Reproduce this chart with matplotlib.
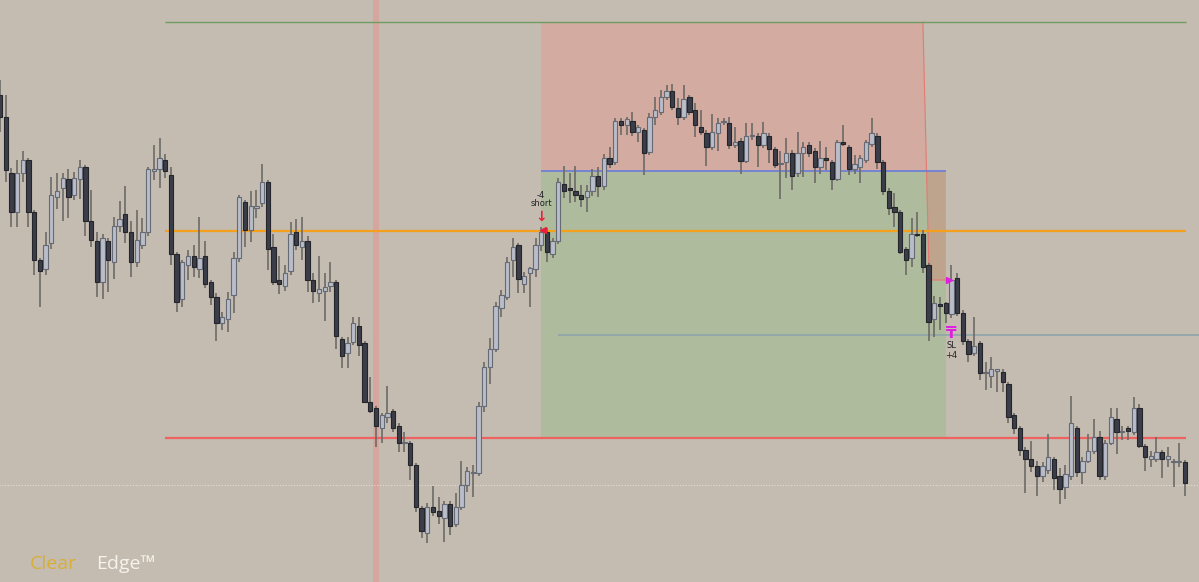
#!/usr/bin/env python3
"""Short trade on a candlestick chart with TP / SL zones."""

import matplotlib
matplotlib.use("Agg")
import matplotlib.pyplot as plt
import numpy as np

# OHLC in points, one entry per candle
opens = [505, 483, 427, 388, 427, 440, 388, 340, 331, 357,
         403, 412, 421, 405, 421, 433, 379, 359, 318, 359,
         338, 374, 386, 368, 338, 355, 368, 429, 431, 440,
         425, 346, 301, 335, 344, 331, 344, 318, 303, 277,
         281, 305, 342, 398, 370, 392, 397, 418, 353, 320,
         314, 329, 368, 353, 359, 320, 307, 309, 314, 318,
         261, 247, 258, 274, 257, 198, 192, 172, 183, 189,
         174, 157, 157, 135, 92, 67, 93, 89, 82, 96,
         76, 93, 115, 127, 127, 194, 233, 251, 292, 303,
         340, 355, 316, 327, 331, 355, 368, 346, 359, 416,
         412, 409, 405, 403, 409, 424, 414, 442, 438, 479,
         475, 479, 468, 470, 448, 483, 488, 503, 509, 492,
         483, 503, 490, 473, 467, 453, 467, 478, 477, 455,
         459, 439, 464, 464, 455, 464, 451, 436, 438, 447,
         427, 447, 455, 449, 433, 442, 438, 421, 458, 453,
         431, 433, 440, 456, 464, 438, 409, 393, 388, 351,
         342, 366, 366, 335, 281, 296, 297, 286, 322, 287,
         259, 247, 257, 227, 224, 229, 228, 216, 185, 172,
         150, 141, 134, 124, 130, 141, 124, 113, 124, 172,
         128, 139, 149, 163, 124, 157, 181, 168, 172, 168,
         192, 154, 141, 141, 148, 141, 138, 138, 138]
highs = [520, 505, 432, 440, 449, 442, 390, 342, 368, 423,
         427, 427, 431, 428, 440, 435, 410, 368, 366, 362,
         383, 399, 414, 379, 390, 382, 433, 455, 462, 446,
         433, 348, 340, 350, 355, 383, 359, 320, 307, 288,
         308, 348, 405, 400, 409, 410, 436, 420, 366, 344,
         335, 378, 381, 383, 364, 327, 344, 327, 338, 320,
         263, 263, 283, 283, 259, 223, 194, 187, 214, 191,
         177, 168, 159, 137, 94, 97, 114, 103, 99, 99,
         107, 139, 133, 135, 198, 238, 262, 298, 310, 343,
         362, 357, 328, 333, 362, 373, 372, 362, 422, 434,
         427, 434, 415, 415, 431, 433, 446, 453, 482, 482,
         483, 488, 475, 472, 487, 503, 510, 515, 516, 502,
         515, 505, 497, 490, 470, 486, 482, 482, 483, 473,
         462, 477, 477, 467, 478, 467, 453, 449, 462, 450,
         468, 458, 458, 452, 459, 453, 440, 460, 475, 455,
         445, 445, 460, 482, 467, 440, 412, 407, 390, 353,
         382, 388, 370, 337, 304, 303, 298, 335, 327, 290,
         261, 283, 259, 238, 243, 231, 231, 218, 187, 174,
         153, 159, 139, 138, 166, 143, 132, 135, 204, 174,
         143, 166, 181, 169, 160, 192, 192, 174, 174, 203,
         196, 156, 149, 163, 150, 153, 141, 157, 140]
lows = [468, 418, 373, 373, 418, 373, 325, 293, 325, 351,
        391, 379, 382, 400, 401, 364, 353, 303, 301, 308,
        321, 368, 357, 323, 333, 351, 364, 420, 412, 422,
        335, 288, 293, 320, 323, 322, 312, 295, 259, 270,
        268, 287, 338, 353, 358, 382, 393, 330, 315, 306,
        309, 325, 350, 340, 308, 297, 298, 279, 308, 251,
        232, 232, 255, 244, 197, 187, 153, 157, 177, 168,
        148, 148, 120, 88, 62, 57, 84, 76, 58, 65,
        73, 90, 108, 103, 124, 188, 216, 248, 283, 300,
        323, 307, 307, 293, 323, 349, 338, 342, 356, 402,
        397, 398, 393, 388, 404, 403, 410, 432, 435, 465,
        465, 464, 458, 425, 445, 475, 485, 500, 490, 475,
        480, 485, 463, 465, 434, 450, 449, 475, 451, 452,
        426, 437, 460, 433, 452, 437, 432, 401, 422, 410,
        423, 423, 443, 417, 426, 430, 410, 419, 454, 425,
        426, 417, 437, 453, 431, 405, 385, 373, 346, 325,
        333, 363, 327, 259, 263, 270, 277, 282, 284, 255,
        238, 244, 220, 210, 212, 208, 208, 177, 166, 144,
        107, 128, 104, 118, 126, 110, 96, 101, 120, 123,
        116, 137, 146, 120, 120, 155, 146, 160, 160, 165,
        152, 129, 133, 138, 122, 133, 113, 133, 104]
closes = [483, 430, 388, 427, 440, 388, 340, 329, 355, 405,
          409, 422, 403, 422, 433, 379, 360, 318, 362, 340,
          374, 381, 368, 338, 360, 368, 431, 431, 442, 429,
          346, 298, 338, 344, 333, 342, 316, 303, 277, 283,
          301, 342, 403, 370, 394, 394, 418, 351, 318, 316,
          327, 366, 355, 359, 320, 309, 311, 313, 318, 264,
          244, 257, 277, 255, 198, 189, 174, 185, 187, 172,
          157, 158, 135, 93, 69, 93, 88, 84, 96, 74,
          93, 115, 129, 128, 194, 233, 251, 294, 305, 338,
          353, 321, 324, 332, 355, 368, 348, 359, 418, 409,
          410, 405, 401, 409, 424, 414, 442, 436, 479, 475,
          481, 468, 473, 447, 483, 490, 503, 509, 493, 483,
          501, 488, 475, 468, 453, 468, 477, 479, 455, 458,
          439, 464, 465, 455, 467, 451, 435, 437, 447, 424,
          447, 453, 447, 433, 442, 440, 421, 458, 456, 431,
          436, 442, 458, 467, 438, 409, 392, 388, 348, 340,
          366, 365, 333, 278, 297, 294, 287, 320, 287, 259,
          246, 254, 227, 228, 231, 231, 218, 183, 172, 150,
          141, 134, 124, 134, 143, 122, 111, 126, 177, 128,
          139, 149, 163, 124, 157, 183, 168, 169, 169, 192,
          154, 143, 144, 148, 141, 144, 138, 138, 117]

# trade / level values
tp_level = 578
entry_level = 429
sl_level = 320
orange_level = 369
red_level = 162
grey_level = 265
dotted_level = 115
entry_bar = 95
exit_bar = 166
levels_start = 29
marked_bar = 66

BG = "#c4bcb1"

fig = plt.figure(figsize=(11.99, 5.82), dpi=100, facecolor=BG)
ax = fig.add_axes([0, 0, 1, 1])
ax.set_facecolor(BG)

n = len(opens)
x = np.arange(n)
o = np.array(opens, dtype=float)
h = np.array(highs, dtype=float)
l = np.array(lows, dtype=float)
c = np.array(closes, dtype=float)
last = n - 1 + 0.2

# highlighted bar
ax.axvspan(marked_bar - 0.5, marked_bar + 0.5, color="#dc9f97", alpha=0.75, lw=0, zorder=1)

# reward (green) and risk (red) zones
ax.fill_between([entry_bar, exit_bar], red_level, entry_level, color="#aebb9c", lw=0, zorder=1)
ax.fill([entry_bar, exit_bar - 4.0, exit_bar - 3.4, entry_bar],
        [tp_level, tp_level, entry_level, entry_level], color="#d3aba0", lw=0, zorder=1)
ax.fill([exit_bar - 3.4, exit_bar - 2.9, exit_bar, exit_bar],
        [entry_level, sl_level, sl_level, entry_level], color="#bea48c", lw=0, zorder=1)
ax.plot([exit_bar - 4.0, exit_bar - 2.9, exit_bar], [tp_level, sl_level, sl_level],
        color="#e47a72", lw=0.8, zorder=2)

# horizontal levels
ax.hlines(tp_level, levels_start, last, color="#6f9c60", lw=1.0, zorder=2)
ax.hlines(orange_level, levels_start, last, color="#f5a01c", lw=1.6, zorder=2)
ax.hlines(red_level, levels_start, last, color="#ee6262", lw=1.6, zorder=2)
ax.hlines(entry_level, entry_bar, exit_bar, color="#6f80d6", lw=1.3, zorder=2)
ax.hlines(grey_level, entry_bar + 3, n + 3, color="#93a6aa", lw=1.3, zorder=2)
ax.hlines(dotted_level, -1, n + 3, color="#e2ddd6", lw=0.8, ls=(0, (1, 1.5)), zorder=2)

# candles
up = c >= o
body_lo = np.minimum(o, c)
body_h = np.maximum(np.abs(c - o), 0.9)
ax.vlines(x, l, h, color="#6d6a66", lw=1.2, zorder=3)
ax.bar(x[up], body_h[up], bottom=body_lo[up], width=0.76,
       color="#b9bdc9", edgecolor="#666a75", lw=0.8, zorder=4)
ax.bar(x[~up], body_h[~up], bottom=body_lo[~up], width=0.76,
       color="#3b3d48", edgecolor="#24252b", lw=0.8, zorder=4)

# entry / exit markers
ax.text(entry_bar, 405, "-4", fontsize=6, color="#222222", ha="center", va="center", zorder=5)
ax.text(entry_bar, 396, "short", fontsize=6, color="#222222", ha="center", va="center", zorder=5)
ax.text(entry_bar, 383, "\u2193", fontsize=10, color="#e8203c", ha="center", va="center",
        fontweight="bold", zorder=5)
ax.plot(entry_bar + 0.4, 370, marker="<", ms=4, color="#e8203c", zorder=5)
ax.plot(exit_bar + 0.6, sl_level, marker=">", ms=4, color="#e020e0", zorder=5)
ax.text(exit_bar + 1.0, 267, "\u20b8", fontsize=11, color="#e020e0", ha="center", va="center",
        fontweight="bold", zorder=5)
ax.text(exit_bar + 1.0, 254, "SL", fontsize=6, color="#222222", ha="center", va="center", zorder=5)
ax.text(exit_bar + 1.0, 245, "+4", fontsize=6, color="#222222", ha="center", va="center", zorder=5)

ax.set_xlim(0, 1199 / 5.697)
ax.set_ylim(18, 600)
ax.axis("off")

# watermark
fig.text(30 / 1199, 1 - 569 / 582, "Clear", fontsize=14, color="#d8ae36",
         family="Open Sans", va="baseline")
fig.text(96 / 1199, 1 - 569 / 582, "Edge\u2122", fontsize=14, color="#f6f2ec",
         family="Open Sans", va="baseline")

fig.savefig("out.png", dpi=100, facecolor=BG)
